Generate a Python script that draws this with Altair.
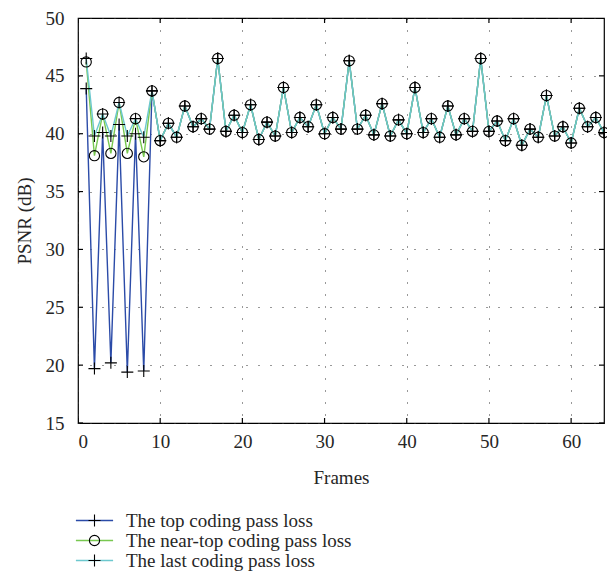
import altair as alt
import pandas as pd

frames = list(range(1, 65))
series_names = [
    "The top coding pass loss",
    "The near-top coding pass loss",
    "The last coding pass loss",
]

top_loss = [
    43.9, 19.7, 40.1, 20.2, 40.8, 19.4, 40.0, 19.5, 43.7,
    39.4, 40.9, 39.7, 42.4, 40.6, 41.3, 40.4, 46.5, 40.2, 41.6,
    40.1, 42.5, 39.5, 41.0, 39.8, 44.0, 40.1, 41.4, 40.6, 42.5,
    40.0, 41.4, 40.4, 46.3, 40.4, 41.6, 39.9, 42.6, 39.8, 41.2,
    40.0, 44.0, 40.1, 41.3, 39.7, 42.4, 39.9, 41.3, 40.2, 46.5,
    40.2, 41.1, 39.4, 41.3, 39.0, 40.4, 39.7, 43.3, 39.8, 40.6,
    39.2, 42.2, 40.6, 41.4, 40.1,
]
near_top_loss = [
    46.2, 38.1, 41.7, 38.3, 42.7, 38.3, 41.3, 38.0, 43.7,
    39.4, 40.9, 39.7, 42.4, 40.6, 41.3, 40.4, 46.5, 40.2, 41.6,
    40.1, 42.5, 39.5, 41.0, 39.8, 44.0, 40.1, 41.4, 40.6, 42.5,
    40.0, 41.4, 40.4, 46.3, 40.4, 41.6, 39.9, 42.6, 39.8, 41.2,
    40.0, 44.0, 40.1, 41.3, 39.7, 42.4, 39.9, 41.3, 40.2, 46.5,
    40.2, 41.1, 39.4, 41.3, 39.0, 40.4, 39.7, 43.3, 39.8, 40.6,
    39.2, 42.2, 40.6, 41.4, 40.1,
]
last_loss = [
    46.5, 39.8, 41.7, 39.8, 42.7, 39.8, 41.3, 39.7, 43.7,
    39.4, 40.9, 39.7, 42.4, 40.6, 41.3, 40.4, 46.5, 40.2, 41.6,
    40.1, 42.5, 39.5, 41.0, 39.8, 44.0, 40.1, 41.4, 40.6, 42.5,
    40.0, 41.4, 40.4, 46.3, 40.4, 41.6, 39.9, 42.6, 39.8, 41.2,
    40.0, 44.0, 40.1, 41.3, 39.7, 42.4, 39.9, 41.3, 40.2, 46.5,
    40.2, 41.1, 39.4, 41.3, 39.0, 40.4, 39.7, 43.3, 39.8, 40.6,
    39.2, 42.2, 40.6, 41.4, 40.1,
]

x_ticks = [0, 10, 20, 30, 40, 50, 60]
y_ticks = [15, 20, 25, 30, 35, 40, 45, 50]

line_colors = ["#2B4BA8", "#78C850", "#6CC8CE"]
plus_path = "M-1,0L1,0M0,-1L0,1"
circle_path = "M0.85,0A0.85,0.85,0,1,1,-0.85,0A0.85,0.85,0,1,1,0.85,0Z"
FONT = "Liberation Serif"
TEXT = "#262626"

rows = []
for name, vals in zip(series_names, [top_loss, near_top_loss, last_loss]):
    for f, v in zip(frames, vals):
        rows.append({"frame": f, "psnr": v, "series": name, "marker": name})
df = pd.DataFrame(rows)

x_scale = alt.Scale(domain=[0, 64], nice=False, zero=False)
y_scale = alt.Scale(domain=[15, 50], nice=False, zero=False)

x_axis = alt.Axis(
    values=x_ticks, title="Frames", grid=True, gridDash=[1, 11], gridColor="#333333",
    gridWidth=1, ticks=False, domain=False, labelPadding=9, titlePadding=17,
)
y_axis = alt.Axis(
    values=y_ticks, title="PSNR (dB)", grid=True, gridDash=[1, 11], gridColor="#333333",
    gridWidth=1, ticks=False, domain=False, labelPadding=14, titlePadding=11,
)

legend_common = dict(
    orient="none", legendX=7, legendY=493, title=None, symbolSize=144,
    labelFont=FONT, labelFontSize=19, labelOffset=22, rowPadding=0, padding=0,
    labelLimit=0,
)

lines = alt.Chart(df).mark_line(strokeWidth=1.4).encode(
    x=alt.X("frame:Q", scale=x_scale, axis=x_axis),
    y=alt.Y("psnr:Q", scale=y_scale, axis=y_axis),
    color=alt.Color(
        "series:N",
        scale=alt.Scale(domain=series_names, range=line_colors),
        sort=series_names,
        legend=alt.Legend(
            symbolType="M-3.1,0L3.1,0", symbolStrokeWidth=1.4,
            symbolFillColor="transparent", labelColor=TEXT, **legend_common
        ),
    ),
)

points = alt.Chart(df).mark_point(
    filled=False, size=144, strokeWidth=1.1, color="black", opacity=1
).encode(
    x=alt.X("frame:Q", scale=x_scale),
    y=alt.Y("psnr:Q", scale=y_scale),
    shape=alt.Shape(
        "marker:N",
        scale=alt.Scale(domain=series_names, range=[plus_path, circle_path, plus_path]),
        sort=series_names,
        legend=alt.Legend(
            symbolStrokeColor="black", symbolStrokeWidth=1.1,
            symbolFillColor="transparent", labelColor="transparent", **legend_common
        ),
    ),
)

xt = pd.DataFrame({"frame": x_ticks})
yt = pd.DataFrame({"psnr": y_ticks})
tick_style = dict(size=10, thickness=1.2, color="black", clip=True, opacity=1)

bottom_ticks = alt.Chart(xt).mark_tick(orient="vertical", **tick_style).encode(
    x=alt.X("frame:Q", scale=x_scale),
    y=alt.YDatum(datum=15, type="quantitative"),
)
top_ticks = alt.Chart(xt).mark_tick(orient="vertical", **tick_style).encode(
    x=alt.X("frame:Q", scale=x_scale),
    y=alt.YDatum(datum=50, type="quantitative"),
)
left_ticks = alt.Chart(yt).mark_tick(orient="horizontal", **tick_style).encode(
    y=alt.Y("psnr:Q", scale=y_scale),
    x=alt.XDatum(datum=0, type="quantitative"),
)
right_ticks = alt.Chart(yt).mark_tick(orient="horizontal", **tick_style).encode(
    y=alt.Y("psnr:Q", scale=y_scale),
    x=alt.XDatum(datum=64, type="quantitative"),
)

chart = (
    alt.layer(lines, points, bottom_ticks, top_ticks, left_ticks, right_ticks)
    .resolve_legend(color="independent", shape="independent")
    .properties(
        width=526, height=405,
        padding={"left": 70, "top": 10, "right": 3, "bottom": 155},
        autosize=alt.AutoSizeParams(type="none"),
        background="white",
    )
    .configure_view(stroke="black", strokeWidth=1.2)
    .configure_axis(
        labelFont=FONT, labelFontSize=19, labelColor=TEXT,
        titleFont=FONT, titleFontSize=19, titleFontWeight="normal", titleColor=TEXT,
    )
)

chart.save("out.html", embed_options={"renderer": "svg", "actions": False})
